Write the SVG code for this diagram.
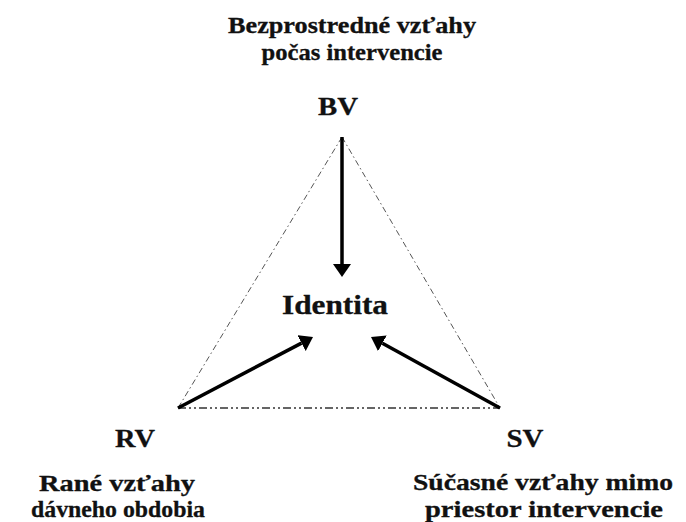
<svg xmlns="http://www.w3.org/2000/svg" width="686" height="522" viewBox="0 0 686 522">
  <style>
    text { font-family: "Liberation Serif", "Times New Roman", serif; font-weight: bold; fill: #111; stroke: #111; stroke-width: 0.3; text-anchor: middle; }
    .lbl { font-size: 23px; }
    .node { font-size: 26px; }
    .center { font-size: 27px; }
    .side { fill: none; stroke: #555; stroke-width: 1; stroke-dasharray: 6 3 1.5 3; }
    .base { fill: none; stroke: #333; stroke-width: 1.5; stroke-dasharray: 8 3 2 3 2 3; }
    .arrow { fill: none; stroke: #000; stroke-width: 3.5; marker-end: url(#head); }
  </style>
  <defs>
    <marker id="head" viewBox="0 0 13 18" refX="0" refY="9" markerWidth="13" markerHeight="18" markerUnits="userSpaceOnUse" orient="auto">
      <path d="M0,0 L13,9 L0,18 z" fill="#000"/>
    </marker>
  </defs>
  <rect width="686" height="522" fill="#fff"/>

  <g id="connectors">
    <line class="side" x1="342" y1="137" x2="178" y2="408"/>
    <line class="side" x1="342" y1="137" x2="500" y2="408"/>
    <line class="base" x1="178" y1="408" x2="500" y2="408"/>
    <line class="arrow" x1="342" y1="137" x2="342" y2="264"/>
    <line class="arrow" x1="178" y1="408" x2="301.5" y2="343.1"/>
    <line class="arrow" x1="500" y1="408" x2="382.4" y2="343.3"/>
  </g>

  <g id="node-BV">
    <text class="lbl" x="352" y="33" textLength="248" lengthAdjust="spacingAndGlyphs">Bezprostredné vzťahy</text>
    <text class="lbl" x="352" y="60" textLength="181" lengthAdjust="spacingAndGlyphs">počas intervencie</text>
    <text class="node" x="338" y="115" textLength="40" lengthAdjust="spacingAndGlyphs">BV</text>
  </g>

  <g id="node-Identita">
    <text class="center" x="335" y="314" textLength="106" lengthAdjust="spacingAndGlyphs">Identita</text>
  </g>

  <g id="node-RV">
    <text class="node" x="135" y="447" textLength="40" lengthAdjust="spacingAndGlyphs">RV</text>
    <text class="lbl" x="117" y="491" textLength="156" lengthAdjust="spacingAndGlyphs">Rané vzťahy</text>
    <text class="lbl" x="118" y="517" textLength="174" lengthAdjust="spacingAndGlyphs">dávneho obdobia</text>
  </g>

  <g id="node-SV">
    <text class="node" x="525" y="447" textLength="37" lengthAdjust="spacingAndGlyphs">SV</text>
    <text class="lbl" x="543" y="490" textLength="260" lengthAdjust="spacingAndGlyphs">Súčasné vzťahy mimo</text>
    <text class="lbl" x="544" y="517" textLength="238" lengthAdjust="spacingAndGlyphs">priestor intervencie</text>
  </g>
</svg>
